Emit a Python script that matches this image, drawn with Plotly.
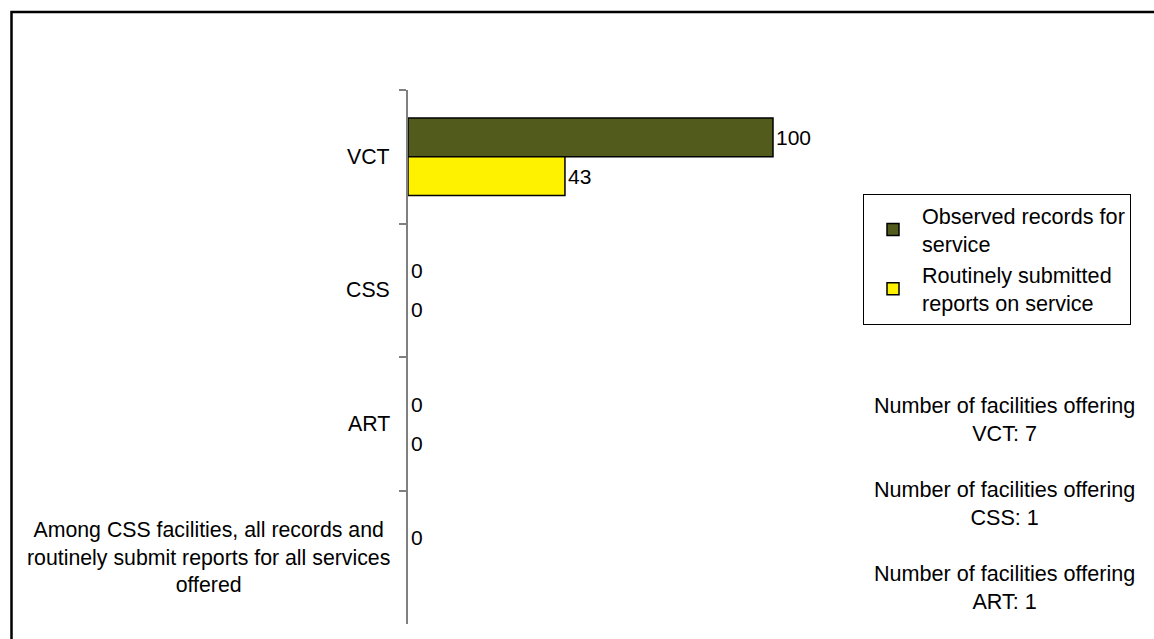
import plotly.graph_objects as go

categories = ["VCT", "CSS", "ART",
              "Among CSS facilities, all records and<br>routinely submit reports for all services<br>offered"]
observed = [100, 0, 0, 0]
reported = [43, 0, 0, None]
series_names = ["Observed records for<br>service", "Routinely submitted<br>reports on service"]
notes = ["Number of facilities offering<br>VCT: 7",
         "Number of facilities offering<br>CSS: 1",
         "Number of facilities offering<br>ART: 1"]

FONT = "Liberation Sans, Arial, sans-serif"
FS_NUM = 21
FS_TXT = 21.6
FS_CAT = 21.3

def outline_widths(vals):
    return [1.5 if (v is not None and v > 0) else 0 for v in vals]

fig = go.Figure()
fig.add_trace(go.Bar(
    y=categories, x=observed, orientation="h", name=series_names[0],
    marker=dict(color="#525A1C", line=dict(color="black", width=outline_widths(observed))),
    text=[str(v) for v in observed], textposition="outside",
    textfont=dict(size=FS_NUM, color="black", family=FONT), cliponaxis=False,
))
fig.add_trace(go.Bar(
    y=categories, x=reported, orientation="h", name=series_names[1],
    marker=dict(color="#FFF200", line=dict(color="black", width=outline_widths(reported))),
    text=["" if v is None else str(v) for v in reported], textposition="outside",
    textfont=dict(size=FS_NUM, color="black", family=FONT), cliponaxis=False,
))

W, H = 1154, 639
L, R, T, B = 408, 308, 90, 15
pw, ph = W - L - R, H - T - B

def px2paper_x(px):
    return (px - L) / pw

def px2paper_y(py):
    return (H - B - py) / ph

annotations = []
for c in categories:
    annotations.append(dict(
        xref="paper", yref="y", x=0, y=c, xshift=-16, xanchor="right",
        yanchor="middle", align="center", text=c, showarrow=False,
        font=dict(size=FS_CAT, color="black", family=FONT)))
for note, yc in zip(notes, [419, 503, 587]):
    annotations.append(dict(
        xref="paper", yref="paper", x=px2paper_x(1004), y=px2paper_y(yc),
        xanchor="center", yanchor="middle", align="center", text=note,
        showarrow=False, font=dict(size=FS_TXT, color="black", family=FONT)))

fig.update_layout(
    width=W, height=H,
    margin=dict(l=L, r=R, t=T, b=B),
    paper_bgcolor="white", plot_bgcolor="white",
    barmode="group", bargap=0.42, bargroupgap=0,
    font=dict(family=FONT, size=FS_TXT, color="black"),
    xaxis=dict(range=[0, 120], visible=False, fixedrange=True),
    yaxis=dict(type="category", autorange=False, range=[3.5, -0.5],
               showticklabels=False, showgrid=False, zeroline=False,
               showline=True, linecolor="#808080", linewidth=1.5,
               ticks="outside", tickson="boundaries", ticklen=7,
               tickcolor="#808080", tickwidth=1.5, fixedrange=True),
    legend=dict(x=px2paper_x(863), y=px2paper_y(194), xanchor="left", yanchor="top",
                bordercolor="black", borderwidth=1, bgcolor="white",
                font=dict(size=FS_TXT, family=FONT, color="black"),
                itemwidth=48, tracegroupgap=0, traceorder="normal",
                entrywidth=230, entrywidthmode="pixels"),
    annotations=annotations,
    shapes=[dict(type="rect", xref="paper", yref="paper",
                 x0=px2paper_x(11.5), x1=px2paper_x(1170),
                 y0=px2paper_y(660), y1=px2paper_y(12),
                 line=dict(color="black", width=2.5), fillcolor="rgba(0,0,0,0)",
                 layer="above")],
    showlegend=True,
)

fig.write_html("out.html", config={"displayModeBar": False},
               post_script="document.body.style.margin='0';document.body.style.overflow='hidden';")
